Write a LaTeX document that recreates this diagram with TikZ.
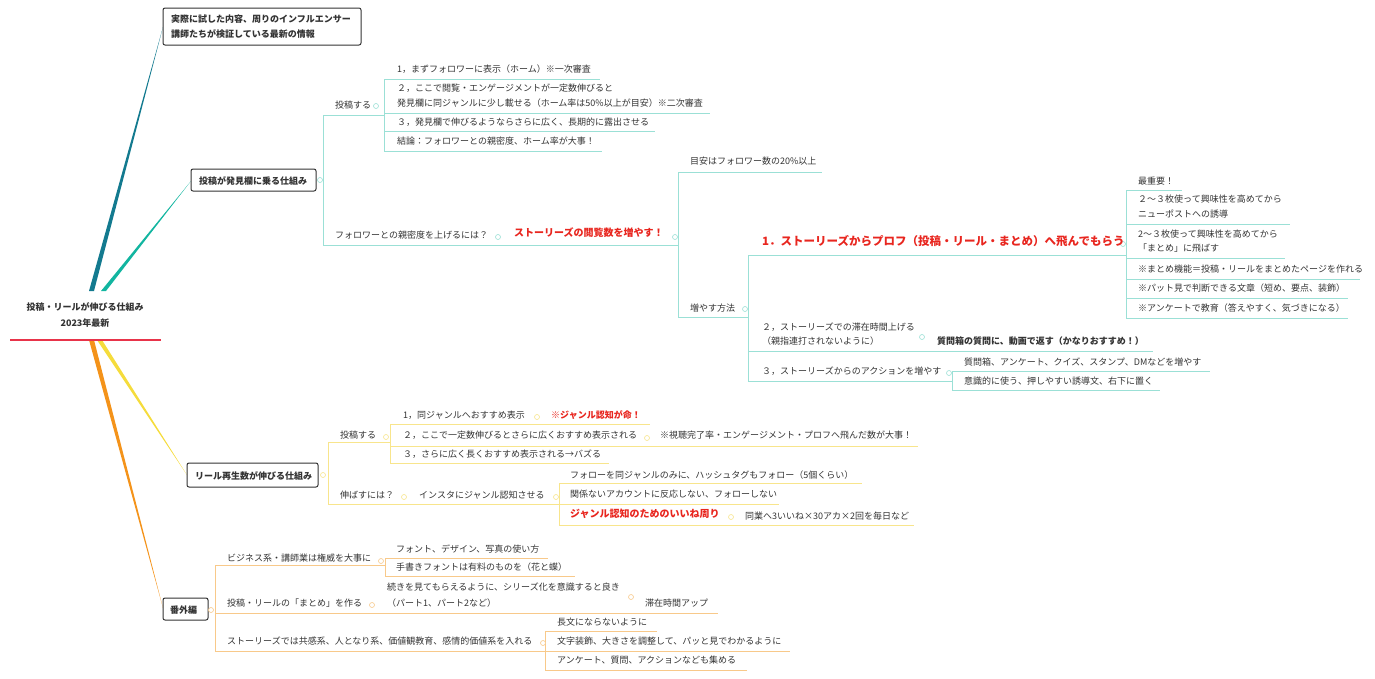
\documentclass[tikz,border=0pt]{standalone}
\usepackage{fontspec}
\newfontfamily\cjk{Noto Sans CJK JP}
\definecolor{txt}{HTML}{333333}
\definecolor{redt}{HTML}{E8261F}
\definecolor{tealA}{HTML}{137A8F}
\definecolor{tealB}{HTML}{12B5A0}
\definecolor{tealL}{HTML}{9BE0D6}
\definecolor{yelB}{HTML}{F5DC3C}
\definecolor{yelL}{HTML}{F8E58C}
\definecolor{oraB}{HTML}{F4931A}
\definecolor{oraL}{HTML}{F8C98A}
\definecolor{rootred}{HTML}{E8344A}
\tikzset{
  t/.style={font=\cjk\fontsize{9}{11}\selectfont,text=txt,inner sep=0pt,anchor=base west},
  tb/.style={t,font=\cjk\fontsize{9}{11}\selectfont\bfseries},
  tr/.style={t,font=\cjk\fontsize{10}{12}\selectfont\bfseries,text=redt},
  trb/.style={t,font=\cjk\fontsize{11.5}{13}\selectfont\bfseries,text=redt},
  box/.style={draw=txt,line width=1pt,rounded corners=2pt,fill=white},
  mk/.style={circle,draw,fill=white,inner sep=0pt,minimum size=5pt,line width=0.6pt},
}
\newcommand\mmT[4][t]{\node[#1] (#2) at #3 {#4};}
\begin{document}
\begin{tikzpicture}[x=1pt,y=-1pt]
\useasboundingbox (0,0) rectangle (1375,678);
% main branches
\fill[tealA] (89,291) -- (94,291) -- (163,27) -- cycle;
\fill[tealB] (101,291) -- (106,291) -- (191,181) -- cycle;
\fill[yelB] (97,340) -- (102,340) -- (187,475) -- cycle;
\fill[oraB] (89,340) -- (94,340) -- (163,608) -- cycle;
% root
\node[tb] (root1) at (85,310) [anchor=base] {投稿・リールが伸びる仕組み};
\node[tb] (root2) at (85,326) [anchor=base] {2023年最新};
\draw[rootred,line width=2.5pt] (10,340) -- (161,340);
% boxes
\draw[box] (163,8) rectangle (361,45);
\mmT[tb]{b1a}{(171,22)}{実際に試した内容、周りのインフルエンサー}
\mmT[tb]{b1b}{(171,37)}{講師たちが検証している最新の情報}
\draw[box] (191,169) rectangle (316,191);
\mmT[tb]{b2}{(199,184)}{投稿が発見欄に乗る仕組み}
\draw[box] (187,463) rectangle (318,487);
\mmT[tb]{b3}{(195,479)}{リール再生数が伸びる仕組み}
\draw[box] (163,598) rectangle (208,620);
\mmT[tb]{b4}{(170,613)}{番外編}

% ===== branch 2 (teal)
\begin{scope}[tealL,line width=0.8pt]
\draw (323,115) -- (323,245);
\draw (323,115) -- (384,115);
\draw (384,79) -- (384,151);
\draw (384,79) -- (600,79);
\draw (384,113) -- (710,113);
\draw (384,131) -- (655,131);
\draw (384,151) -- (602,151);
\draw (323,245) -- (678,245);
\draw (678,172) -- (678,317);
\draw (678,172) -- (822,172);
\draw (678,317) -- (748,317);
\draw (748,255) -- (748,381);
\draw (748,255) -- (1126,255);
\draw (1126,190) -- (1126,318);
\draw (1126,190) -- (1182,190);
\draw (1126,224) -- (1290,224);
\draw (1126,258) -- (1285,258);
\draw (1126,279) -- (1360,279);
\draw (1126,298) -- (1348,298);
\draw (1126,318) -- (1348,318);
\draw (748,351) -- (1153,351);
\draw (748,381) -- (952,381);
\draw (952,371) -- (952,390);
\draw (952,371) -- (1210,371);
\draw (952,390) -- (1160,390);
\end{scope}
\begin{scope}[every node/.style={mk,draw=tealL}]
\node (m1) at (320,180) {}; \node (m2) at (376,106) {}; \node (m3) at (498,237) {};
\node (m4) at (675,237) {}; \node (m5) at (745,309) {}; \node (m6) at (1123,244) {};
\node (m7) at (922,337) {}; \node (m8) at (949,373) {};
\end{scope}
\mmT{a1}{(335,108)}{投稿する}
\mmT{a2}{(397,72)}{1，まずフォロワーに表示（ホーム）※一次審査}
\mmT{a3}{(397,91)}{２，ここで閲覧・エンゲージメントが一定数伸びると}
\mmT{a4}{(397,106)}{発見欄に同ジャンルに少し載せる（ホーム率は50\%以上が目安）※二次審査}
\mmT{a5}{(397,125)}{３，発見欄で伸びるようならさらに広く、長期的に露出させる}
\mmT{a6}{(397,144)}{結論：フォロワーとの親密度、ホーム率が大事！}
\mmT{a7}{(335,238)}{フォロワーとの親密度を上げるには？}
\mmT[tr]{a8}{(514,236)}{ストーリーズの閲覧数を増やす！}
\mmT{a9}{(690,164)}{目安はフォロワー数の20\%以上}
\mmT{a10}{(690,311)}{増やす方法}
\mmT[trb]{a11}{(762,245)}{1．ストーリーズからプロフ（投稿・リール・まとめ）へ飛んでもらう}
\mmT{a12}{(1138,184)}{最重要！}
\mmT{a13}{(1138,202)}{２〜３枚使って興味性を高めてから}
\mmT{a14}{(1138,217)}{ニューポストへの誘導}
\mmT{a15}{(1138,237)}{2〜３枚使って興味性を高めてから}
\mmT{a16}{(1138,251)}{「まとめ」に飛ばす}
\mmT{a17}{(1138,272)}{※まとめ機能＝投稿・リールをまとめたページを作れる}
\mmT{a18}{(1138,291)}{※パット見で判断できる文章（短め、要点、装飾）}
\mmT{a19}{(1138,311)}{※アンケートで教育（答えやすく、気づきになる）}
\mmT{a20}{(762,330)}{２，ストーリーズでの滞在時間上げる}
\mmT{a21}{(762,344)}{（親指連打されないように）}
\mmT[tb]{a22}{(937,344)}{質問箱の質問に、動画で返す（かなりおすすめ！）}
\mmT{a23}{(762,374)}{３，ストーリーズからのアクションを増やす}
\mmT{a24}{(964,365)}{質問箱、アンケート、クイズ、スタンプ、DMなどを増やす}
\mmT{a25}{(964,384)}{意識的に使う、押しやすい誘導文、右下に置く}

% ===== branch 3 (yellow)
\begin{scope}[yelL,line width=0.8pt]
\draw (328,442) -- (328,504);
\draw (328,442) -- (390,442);
\draw (390,424) -- (390,463);
\draw (390,424) -- (650,424);
\draw (390,446) -- (918,446);
\draw (390,463) -- (609,463);
\draw (328,504) -- (559,504);
\draw (559,483) -- (559,525);
\draw (559,483) -- (862,483);
\draw (559,504) -- (779,504);
\draw (559,525) -- (914,525);
\end{scope}
\begin{scope}[every node/.style={mk,draw=yelL}]
\node (y1) at (323,475) {}; \node (y2) at (386,437) {}; \node (y3) at (537,417) {};
\node (y4) at (647,438) {}; \node (y5) at (404,497) {}; \node (y6) at (556,497) {};
\node (y7) at (731,517) {};
\end{scope}
\mmT{c1}{(340,438)}{投稿する}
\mmT{c2}{(403,418)}{1，同ジャンルへおすすめ表示}
\mmT[t,font=\cjk\fontsize{9}{11}\selectfont\bfseries,text=redt]{c3}{(551,418)}{※ジャンル認知が命！}
\mmT{c4}{(403,438)}{２，ここで一定数伸びるとさらに広くおすすめ表示される}
\mmT{c5}{(660,438)}{※視聴完了率・エンゲージメント・プロフへ飛んだ数が大事！}
\mmT{c6}{(403,457)}{３，さらに広く長くおすすめ表示される→バズる}
\mmT{c7}{(340,498)}{伸ばすには？}
\mmT{c8}{(419,498)}{インスタにジャンル認知させる}
\mmT{c9}{(570,478)}{フォローを同ジャンルのみに、ハッシュタグもフォロー（5個くらい）}
\mmT{c10}{(570,497)}{関係ないアカウントに反応しない、フォローしない}
\mmT[tr]{c11}{(570,517)}{ジャンル認知のためのいいね周り}
\mmT{c12}{(745,519)}{同業へ3いいね×30アカ×2回を毎日など}

% ===== branch 4 (orange)
\begin{scope}[oraL,line width=0.8pt]
\draw (215,565) -- (215,651);
\draw (215,565) -- (385,565);
\draw (385,558) -- (385,576);
\draw (385,558) -- (548,558);
\draw (385,576) -- (575,576);
\draw (215,613) -- (718,613);
\draw (215,651) -- (545,651);
\draw (545,631) -- (545,670);
\draw (545,631) -- (657,631);
\draw (545,651) -- (790,651);
\draw (545,670) -- (747,670);
\end{scope}
\begin{scope}[every node/.style={mk,draw=oraL}]
\node (o1) at (211,610) {}; \node (o2) at (381,561) {}; \node (o3) at (372,605) {};
\node (o4) at (631,597) {}; \node (o5) at (543,643) {};
\end{scope}
\mmT{d1}{(227,561)}{ビジネス系・講師業は権威を大事に}
\mmT{d2}{(396,552)}{フォント、デザイン、写真の使い方}
\mmT{d3}{(396,570)}{手書きフォントは有料のものを（花と蝶）}
\mmT{d4}{(227,606)}{投稿・リールの「まとめ」を作る}
\mmT{d5}{(387,590)}{続きを見てもらえるように、シリーズ化を意識すると良き}
\mmT{d6}{(387,606)}{（パート1、パート2など）}
\mmT{d7}{(645,606)}{滞在時間アップ}
\mmT{d8}{(227,644)}{ストーリーズでは共感系、人となり系、価値観教育、感情的価値系を入れる}
\mmT{d9}{(557,625)}{長文にならないように}
\mmT{d10}{(557,644)}{文字装飾、大きさを調整して、パッと見でわかるように}
\mmT{d11}{(557,663)}{アンケート、質問、アクションなども集める}
\end{tikzpicture}
\end{document}
